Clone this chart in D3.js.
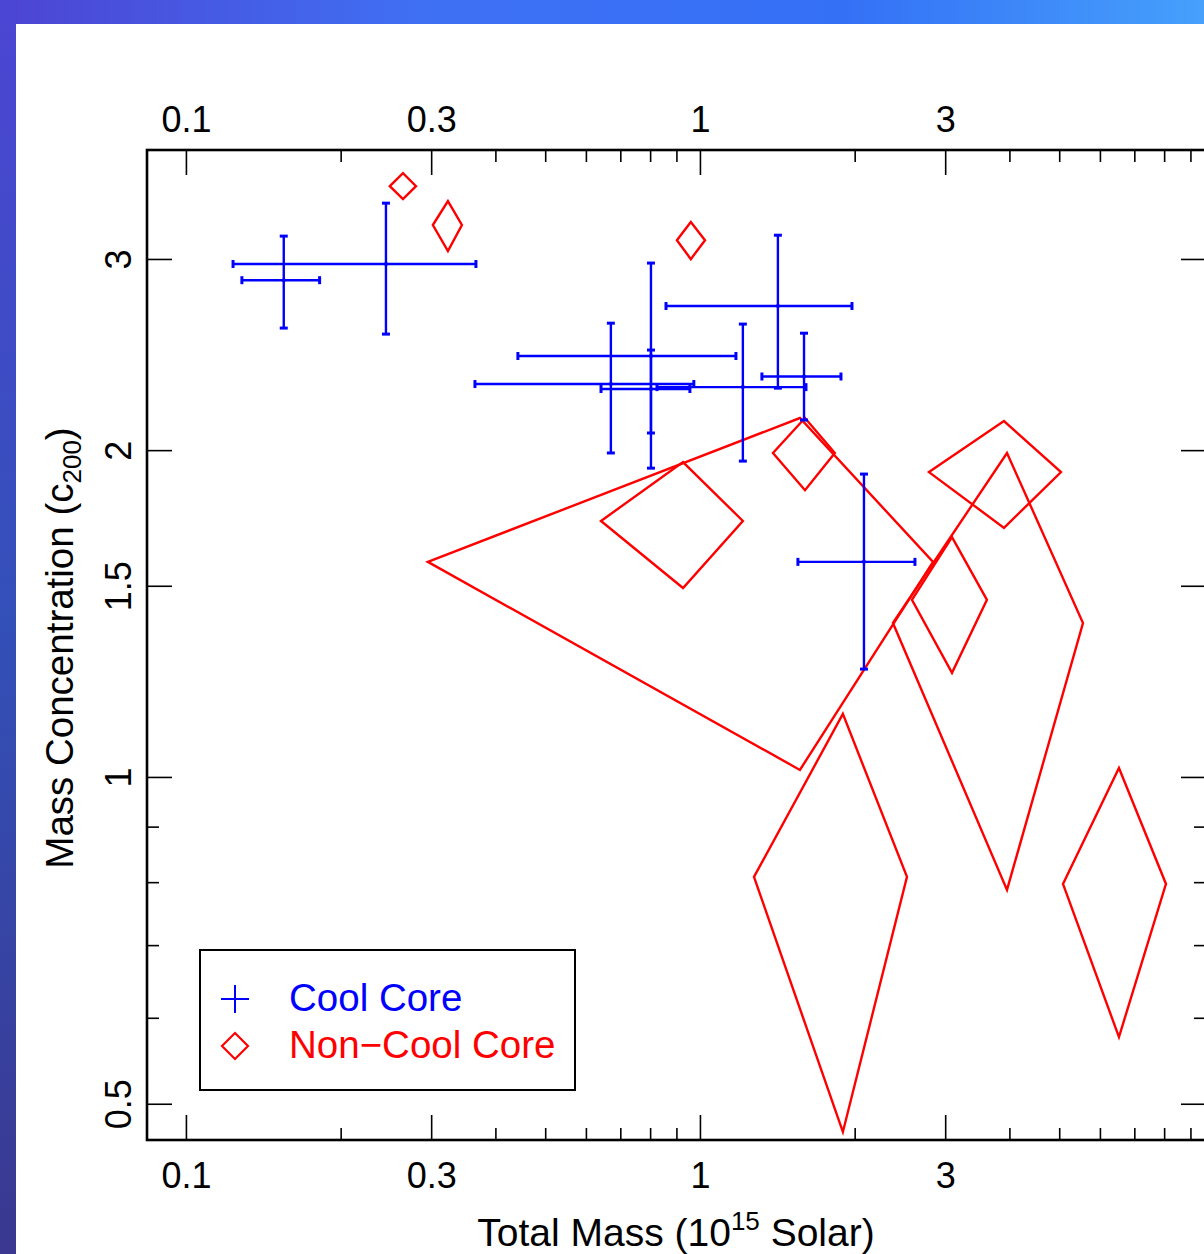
<!DOCTYPE html>
<html lang="en">
<head>
    <meta charset="UTF-8">
    <title>Mass Concentration vs Total Mass</title>
    <script src="https://d3js.org/d3.v7.min.js"></script>
    <style type="text/css">
        body { margin: 0; background: white; }
        * { font-family: "Liberation Sans", Arial, Helvetica, sans-serif; }
    </style>
</head>
<body>
<div id="chart"></div>

<script>
// data
// cool core clusters: mass (10^15 solar) and concentration with error ranges
var ccMass   = [0.155, 0.245, 0.671, 0.803, 0.803, 1.212, 1.418, 1.594, 2.085];
var ccMassLo = [0.1285, 0.1235, 0.365, 0.4424, 0.642, 0.825, 0.859, 1.32, 1.551];
var ccMassHi = [0.182, 0.3666, 0.973, 1.175, 0.956, 1.608, 1.976, 1.881, 2.62];
var ccConc   = [2.868, 2.968, 2.301, 2.442, 2.277, 2.286, 2.715, 2.338, 1.578];
var ccConcLo = [2.591, 2.558, 1.988, 1.925, 2.074, 1.954, 2.281, 2.132, 1.257];
var ccConcHi = [3.149, 3.377, 2.618, 2.974, 2.473, 2.613, 3.155, 2.563, 1.901];

// non-cool core clusters (drawn as error diamonds)
var nccMass   = [0.2644, 0.3234, 0.960, 0.927, 1.601, 1.565, 3.957, 3.904, 3.093, 1.897, 6.534];
var nccMassLo = [0.2493, 0.3023, 0.902, 0.642, 1.387, 0.2956, 2.374, 2.790, 2.585, 1.274, 5.085];
var nccMassHi = [0.2803, 0.3443, 1.023, 1.212, 1.830, 2.841, 5.562, 5.040, 3.617, 2.528, 8.066];
var nccConc   = [3.501, 3.224, 3.122, 1.721, 1.988, 1.578, 1.386, 1.909, 1.456, 0.809, 0.797];
var nccConcLo = [3.406, 3.051, 2.999, 1.493, 1.837, 1.015, 0.787, 1.696, 1.247, 0.471, 0.576];
var nccConcHi = [3.599, 3.392, 3.245, 1.950, 2.141, 2.141, 1.988, 2.127, 1.663, 1.143, 1.019];

// tick values
var xMajor = [0.1, 0.3, 1, 3];
var xMinor = [0.2, 0.4, 0.5, 0.6, 0.7, 0.8, 0.9, 2, 4, 5, 6, 7, 8, 9];
var yMajor = [0.5, 1, 1.5, 2, 3];
var yMinor = [0.6, 0.7, 0.8, 0.9];

var legendNames = ["Cool Core", "Non\u2212Cool Core"];

var width = 1204, height = 1254;
// plot box (note: "top" is reserved on window, so use other names)
var pLeft = 147, pTop = 150, pRight = 1206, pBottom = 1140;
var blue = "#0000ff", red = "#ff0000";

var svg = d3.select("#chart").append("svg")
    .attr("width", width)
    .attr("height", height);

// slide background: gradient bar on top and strip on the left
var defs = svg.append("defs");
var gTop = defs.append("linearGradient").attr("id", "gTop");
gTop.append("stop").attr("offset", "0%").attr("stop-color", "#4d44d2");
gTop.append("stop").attr("offset", "35%").attr("stop-color", "#3f70f4");
gTop.append("stop").attr("offset", "70%").attr("stop-color", "#3470f6");
gTop.append("stop").attr("offset", "100%").attr("stop-color", "#46a0fc");
var gLeft = defs.append("linearGradient").attr("id", "gLeft")
    .attr("x1", 0).attr("y1", 0).attr("x2", 0).attr("y2", 1);
gLeft.append("stop").attr("offset", "0%").attr("stop-color", "#4c46d4");
gLeft.append("stop").attr("offset", "50%").attr("stop-color", "#3350b8");
gLeft.append("stop").attr("offset", "100%").attr("stop-color", "#3a3890");

svg.append("rect").attr("width", width).attr("height", height).attr("fill", "white");
svg.append("rect").attr("width", width).attr("height", 24).attr("fill", "url(#gTop)");
svg.append("rect").attr("y", 0).attr("width", 16).attr("height", height).attr("fill", "url(#gLeft)");

// log scales
var x = d3.scaleLog().domain([0.084, 9.65]).range([pLeft, pRight]);
var y = d3.scaleLog().domain([0.463, 3.78]).range([pBottom, pTop]);

// clip for the marks
defs.append("clipPath").attr("id", "plotClip")
    .append("rect").attr("x", pLeft).attr("y", pTop)
    .attr("width", pRight - pLeft).attr("height", pBottom - pTop);

// axes: long ticks with labels and short ticks without
function styleAxis(g) {
    g.select(".domain").remove();
    g.selectAll("line").attr("stroke", "black").attr("stroke-width", 1.6);
    g.selectAll("text").style("font-size", "36px").attr("fill", "black");
}

var fmt = function(d) { return d3.format("")(d); };

svg.append("g").attr("transform", "translate(0," + pBottom + ")")
    .call(d3.axisBottom(x).tickValues(xMajor).tickFormat(fmt).tickSize(-25))
    .call(styleAxis)
    .selectAll("text").attr("y", 48).attr("dy", 0);
svg.append("g").attr("transform", "translate(0," + pBottom + ")")
    .call(d3.axisBottom(x).tickValues(xMinor).tickFormat("").tickSize(-12))
    .call(styleAxis);

svg.append("g").attr("transform", "translate(0," + pTop + ")")
    .call(d3.axisTop(x).tickValues(xMajor).tickFormat(fmt).tickSize(-25))
    .call(styleAxis)
    .selectAll("text").attr("y", -18).attr("dy", 0);
svg.append("g").attr("transform", "translate(0," + pTop + ")")
    .call(d3.axisTop(x).tickValues(xMinor).tickFormat("").tickSize(-12))
    .call(styleAxis);

svg.append("g").attr("transform", "translate(" + pLeft + ",0)")
    .call(d3.axisLeft(y).tickValues(yMajor).tickFormat(fmt).tickSize(-25))
    .call(styleAxis)
    .selectAll("text")
        .attr("x", 0).attr("dy", 0)
        .attr("text-anchor", "middle")
        .attr("transform", "translate(-16,0) rotate(-90)");
svg.append("g").attr("transform", "translate(" + pLeft + ",0)")
    .call(d3.axisLeft(y).tickValues(yMinor).tickFormat("").tickSize(-12))
    .call(styleAxis);

svg.append("g").attr("transform", "translate(" + pRight + ",0)")
    .call(d3.axisRight(y).tickValues(yMajor).tickFormat("").tickSize(-25))
    .call(styleAxis);
svg.append("g").attr("transform", "translate(" + pRight + ",0)")
    .call(d3.axisRight(y).tickValues(yMinor).tickFormat("").tickSize(-12))
    .call(styleAxis);

// frame
svg.append("rect")
    .attr("x", pLeft).attr("y", pTop)
    .attr("width", pRight - pLeft).attr("height", pBottom - pTop)
    .attr("fill", "none").attr("stroke", "black").attr("stroke-width", 2.6);

// axis titles
var xTitle = svg.append("text")
    .attr("x", 676).attr("y", 1246)
    .attr("text-anchor", "middle")
    .style("font-size", "39px");
xTitle.append("tspan").text("Total Mass (10");
xTitle.append("tspan").attr("dy", -16).style("font-size", "26px").text("15");
xTitle.append("tspan").attr("dy", 16).text(" Solar)");

var yTitle = svg.append("text")
    .attr("transform", "translate(73,648) rotate(-90)")
    .attr("text-anchor", "middle")
    .style("font-size", "38.5px");
yTitle.append("tspan").text("Mass Concentration (c");
yTitle.append("tspan").attr("dy", 8).style("font-size", "26px").text("200");
yTitle.append("tspan").attr("dy", -8).text(")");

var plot = svg.append("g").attr("clip-path", "url(#plotClip)");

// non-cool core diamonds: left, top, right, bottom corners from the error ranges
var ncc = d3.range(nccMass.length).map(function(i) {
    return [
        [x(nccMassLo[i]), y(nccConc[i])],
        [x(nccMass[i]), y(nccConcHi[i])],
        [x(nccMassHi[i]), y(nccConc[i])],
        [x(nccMass[i]), y(nccConcLo[i])]
    ];
});
plot.selectAll("path.ncc")
    .data(ncc)
    .enter()
    .append("path")
    .attr("class", "ncc")
    .attr("d", function(d) { return "M" + d.join("L") + "Z"; })
    .attr("fill", "none")
    .attr("stroke", red)
    .attr("stroke-width", 2.4)
    .attr("stroke-linejoin", "miter");

// cool core error crosses with caps
var cc = d3.range(ccMass.length);
var cap = 4;
var crosses = plot.selectAll("g.cc")
    .data(cc)
    .enter()
    .append("g")
    .attr("class", "cc")
    .attr("stroke", blue)
    .attr("stroke-width", 2.4);

crosses.append("line")
    .attr("x1", function(i) { return x(ccMassLo[i]); })
    .attr("x2", function(i) { return x(ccMassHi[i]); })
    .attr("y1", function(i) { return y(ccConc[i]); })
    .attr("y2", function(i) { return y(ccConc[i]); });
crosses.append("line")
    .attr("x1", function(i) { return x(ccMass[i]); })
    .attr("x2", function(i) { return x(ccMass[i]); })
    .attr("y1", function(i) { return y(ccConcLo[i]); })
    .attr("y2", function(i) { return y(ccConcHi[i]); });
// caps
[ccMassLo, ccMassHi].forEach(function(arr) {
    crosses.append("line")
        .attr("x1", function(i) { return x(arr[i]); })
        .attr("x2", function(i) { return x(arr[i]); })
        .attr("y1", function(i) { return y(ccConc[i]) - cap; })
        .attr("y2", function(i) { return y(ccConc[i]) + cap; })
        .attr("stroke-width", 3);
});
[ccConcLo, ccConcHi].forEach(function(arr) {
    crosses.append("line")
        .attr("x1", function(i) { return x(ccMass[i]) - cap; })
        .attr("x2", function(i) { return x(ccMass[i]) + cap; })
        .attr("y1", function(i) { return y(arr[i]); })
        .attr("y2", function(i) { return y(arr[i]); })
        .attr("stroke-width", 3);
});
crosses.append("circle")
    .attr("cx", function(i) { return x(ccMass[i]); })
    .attr("cy", function(i) { return y(ccConc[i]); })
    .attr("r", 2)
    .attr("fill", blue)
    .attr("stroke", "none");

// legend
var legend = svg.append("g");
legend.append("rect")
    .attr("x", 200).attr("y", 950)
    .attr("width", 375).attr("height", 140)
    .attr("fill", "white").attr("stroke", "black").attr("stroke-width", 2);

legend.append("path")
    .attr("d", "M221,999H249M235,985V1013")
    .attr("stroke", blue).attr("stroke-width", 2);
legend.append("path")
    .attr("d", "M222,1046L235,1033L248,1046L235,1059Z")
    .attr("fill", "none").attr("stroke", red).attr("stroke-width", 2.2);

legend.selectAll("text")
    .data(legendNames)
    .enter()
    .append("text")
    .attr("x", 289)
    .attr("y", function(d, i) { return 1011 + i * 47; })
    .attr("fill", function(d, i) { return i == 0 ? blue : red; })
    .style("font-size", "38.5px")
    .text(function(d) { return d; });
</script>
</body>
</html>
